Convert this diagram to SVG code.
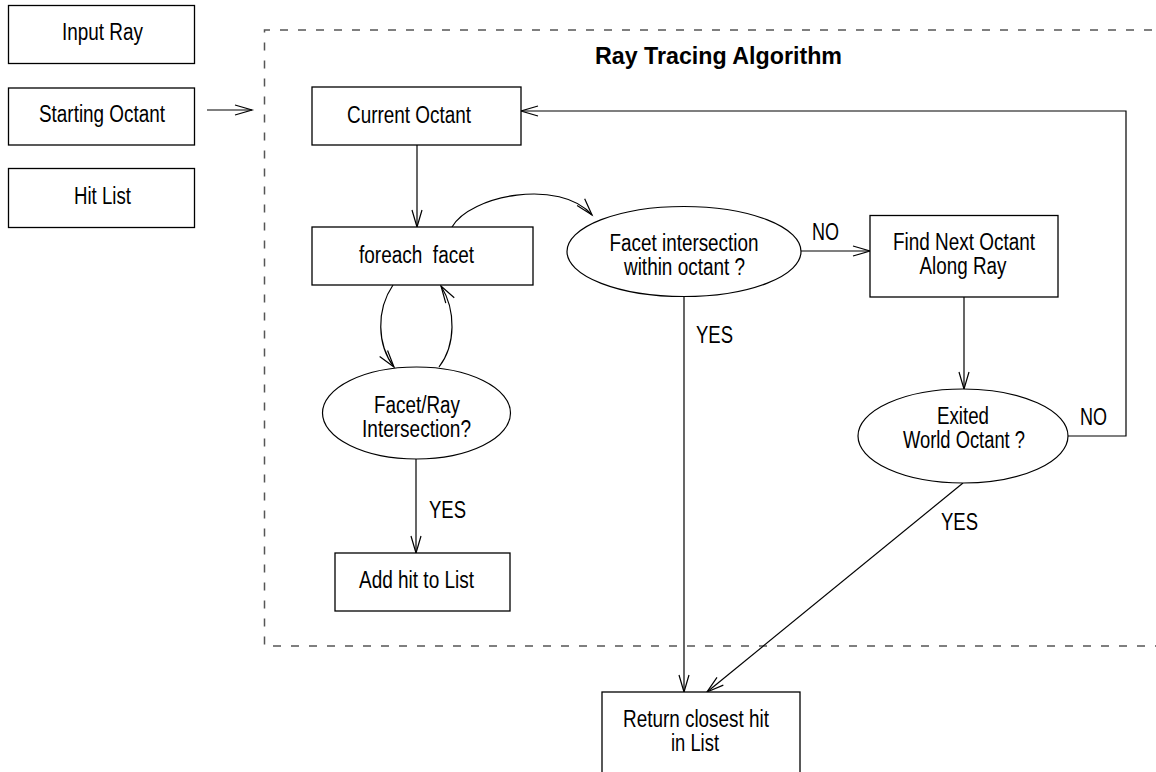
<svg xmlns="http://www.w3.org/2000/svg" width="1156" height="772" viewBox="0 0 1156 772">
<style>
  .box { fill: #fff; stroke: #000; stroke-width: 1.3; }
  .dec { fill: #fff; stroke: #000; stroke-width: 1.2; }
  .edge { fill: none; stroke: #000; stroke-width: 1.2; }
  .frame { fill: none; stroke: #555; stroke-width: 1.5; stroke-dasharray: 8 10; }
  text { font-family: "Liberation Sans", Arial, sans-serif; font-size: 23px; fill: #000; }
  .c { text-anchor: middle; }
  .title { font-weight: bold; }
</style>
<defs>
  <marker id="arr" markerUnits="userSpaceOnUse" markerWidth="20" markerHeight="12" refX="0" refY="0" viewBox="-18 -6 20 12" orient="auto" overflow="visible">
    <path d="M-17,-5 L0,0 L-17,5" fill="none" stroke="#000" stroke-width="1.2"/>
  </marker>
</defs>
<rect width="1156" height="772" fill="#fff"/>

<g id="frame">
  <path class="frame" d="M1170,30 H264.5 V646 H1170"/>
  <text class="title" x="595" y="64" textLength="247" lengthAdjust="spacingAndGlyphs">Ray Tracing Algorithm</text>
</g>

<g id="connectors">
  <line class="edge" x1="207" y1="110" x2="252" y2="110" marker-end="url(#arr)"/>
  <line class="edge" x1="417" y1="145" x2="417" y2="227" marker-end="url(#arr)"/>
  <path class="edge" d="M452,227 C470,195 560,178 592,215" marker-end="url(#arr)"/>
  <path class="edge" d="M393,285 C376,310 377,345 394,367" marker-end="url(#arr)"/>
  <path class="edge" d="M439,367 C456,345 456,310 441,286" marker-end="url(#arr)"/>
  <line class="edge" x1="416" y1="459" x2="416" y2="553" marker-end="url(#arr)"/>
  <line class="edge" x1="801" y1="251" x2="870" y2="251" marker-end="url(#arr)"/>
  <line class="edge" x1="964" y1="297" x2="964" y2="389" marker-end="url(#arr)"/>
  <path class="edge" d="M1068,436 H1126 V111 H521" marker-end="url(#arr)"/>
  <line class="edge" x1="684" y1="296" x2="684" y2="692" marker-end="url(#arr)"/>
  <line class="edge" x1="963" y1="483" x2="707" y2="692" marker-end="url(#arr)"/>
  <text x="812" y="240" textLength="27" lengthAdjust="spacingAndGlyphs">NO</text>
  <text x="1080" y="425" textLength="27" lengthAdjust="spacingAndGlyphs">NO</text>
  <text x="696" y="343" textLength="37" lengthAdjust="spacingAndGlyphs">YES</text>
  <text x="429" y="518" textLength="37" lengthAdjust="spacingAndGlyphs">YES</text>
  <text x="941" y="530" textLength="37" lengthAdjust="spacingAndGlyphs">YES</text>
</g>

<g id="input-ray">
  <rect class="box" x="8.5" y="5.5" width="186" height="58"/>
  <text class="c" x="102.5" y="40" textLength="81" lengthAdjust="spacingAndGlyphs">Input Ray</text>
</g>
<g id="starting-octant">
  <rect class="box" x="8.5" y="88" width="186" height="57"/>
  <text class="c" x="102" y="122" textLength="126" lengthAdjust="spacingAndGlyphs">Starting Octant</text>
</g>
<g id="hit-list">
  <rect class="box" x="8.5" y="168.5" width="186" height="59"/>
  <text class="c" x="102.5" y="204" textLength="57" lengthAdjust="spacingAndGlyphs">Hit List</text>
</g>

<g id="current-octant">
  <rect class="box" x="312" y="87" width="209" height="58"/>
  <text class="c" x="409" y="123" textLength="124" lengthAdjust="spacingAndGlyphs">Current Octant</text>
</g>
<g id="foreach-facet">
  <rect class="box" x="312" y="227" width="221" height="58"/>
  <text class="c" x="416.5" y="263" textLength="115" lengthAdjust="spacingAndGlyphs" xml:space="preserve">foreach  facet</text>
</g>
<g id="facet-ray-intersection">
  <ellipse class="dec" cx="416.5" cy="413" rx="94" ry="46"/>
  <text class="c" x="417" y="413" textLength="86" lengthAdjust="spacingAndGlyphs">Facet/Ray</text>
  <text class="c" x="416.5" y="437" textLength="109" lengthAdjust="spacingAndGlyphs">Intersection?</text>
</g>
<g id="add-hit">
  <rect class="box" x="335" y="553" width="175" height="58"/>
  <text class="c" x="416.5" y="588" textLength="115" lengthAdjust="spacingAndGlyphs">Add hit to List</text>
</g>
<g id="facet-in-octant">
  <ellipse class="dec" cx="684" cy="251.5" rx="117" ry="45"/>
  <text class="c" x="684" y="251" textLength="149" lengthAdjust="spacingAndGlyphs">Facet intersection</text>
  <text class="c" x="684.5" y="275" textLength="121" lengthAdjust="spacingAndGlyphs">within octant ?</text>
</g>
<g id="find-next">
  <rect class="box" x="870" y="215.5" width="188" height="81.5"/>
  <text class="c" x="964" y="250" textLength="142" lengthAdjust="spacingAndGlyphs">Find Next Octant</text>
  <text class="c" x="963" y="274" textLength="87" lengthAdjust="spacingAndGlyphs">Along Ray</text>
</g>
<g id="exited-world">
  <ellipse class="dec" cx="963" cy="436" rx="105" ry="47"/>
  <text class="c" x="963" y="424" textLength="52" lengthAdjust="spacingAndGlyphs">Exited</text>
  <text class="c" x="964" y="448" textLength="122" lengthAdjust="spacingAndGlyphs">World Octant ?</text>
</g>
<g id="return-closest">
  <rect class="box" x="602" y="692" width="198" height="100"/>
  <text class="c" x="696" y="727" textLength="146" lengthAdjust="spacingAndGlyphs">Return closest hit</text>
  <text class="c" x="695" y="751" textLength="48" lengthAdjust="spacingAndGlyphs">in List</text>
</g>
</svg>
